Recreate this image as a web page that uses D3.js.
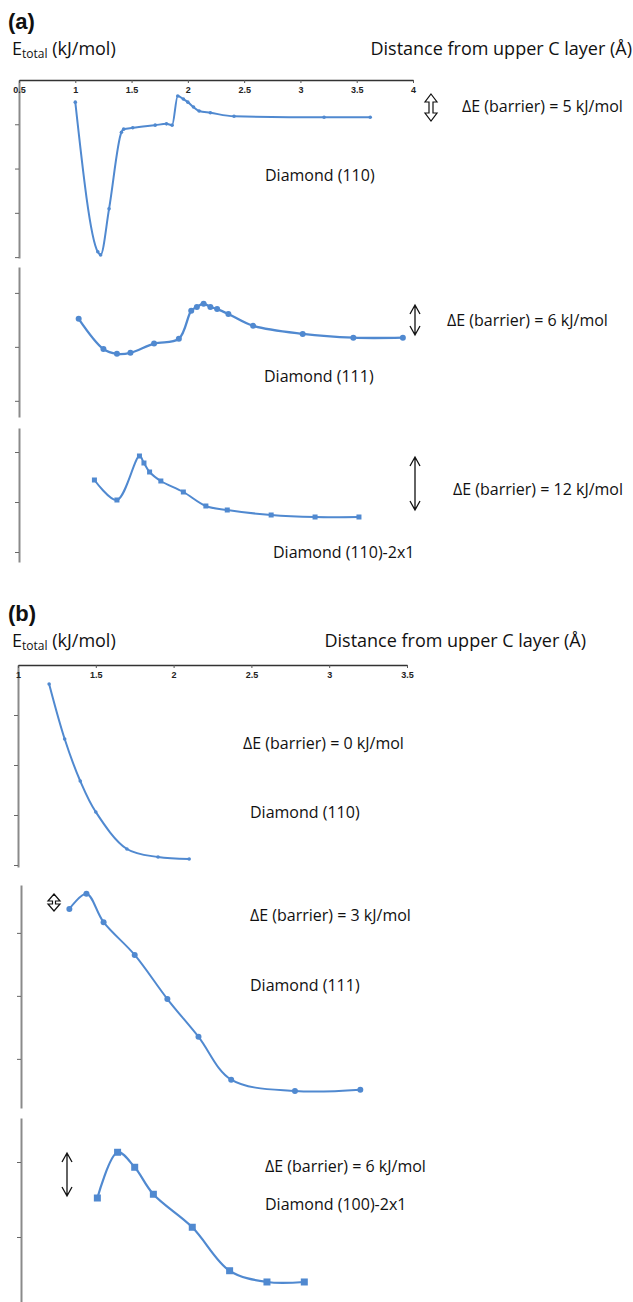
<!DOCTYPE html>
<html>
<head>
<meta charset="utf-8">
<script src="https://cdn.jsdelivr.net/npm/d3@7"></script>
<style>
  body { margin: 0; background: #fff; }
  svg text { font-family: "Open Sans", "Noto Sans", sans-serif; fill: #111; }
  .tick text { font-family: "Liberation Sans", Arial, sans-serif; font-weight: bold; font-size: 9px; fill: #222; }
</style>
</head>
<body>
<div id="chart"></div>
<script>
// distance from upper C layer (Å) and total energy (kJ/mol)
const xTicksA = [0.5, 1, 1.5, 2, 2.5, 3, 3.5, 4];
const xTicksB = [1, 1.5, 2, 2.5, 3, 3.5];

const a110_x = [1.0, 1.2, 1.225, 1.3, 1.41, 1.43, 1.51, 1.71, 1.81, 1.86, 1.91, 1.96, 2.0, 2.05, 2.1, 2.2, 2.41, 3.21, 3.62];
const a110_e = [-5.0, -38.8, -39.5, -29.1, -11.8, -11.1, -10.8, -10.2, -9.9, -10.2, -3.6, -4.3, -5.0, -6.1, -7.0, -7.4, -8.2, -8.4, -8.4];

const a111_x = [1.03, 1.25, 1.37, 1.49, 1.70, 1.92, 2.03, 2.08, 2.14, 2.20, 2.26, 2.36, 2.58, 3.02, 3.47, 3.91];
const a111_e = [-4.8, -10.4, -11.3, -11.1, -9.4, -8.5, -3.3, -2.6, -2.0, -2.6, -3.0, -3.9, -6.1, -7.6, -8.3, -8.3];

const a2x1_x = [1.17, 1.37, 1.57, 1.61, 1.66, 1.76, 1.96, 2.16, 2.35, 2.74, 3.13, 3.52];
const a2x1_e = [-5.6, -9.6, -0.8, -2.2, -4.0, -5.8, -8.0, -10.8, -11.6, -12.6, -13.0, -13.0];

const b110_x = [1.2, 1.3, 1.4, 1.5, 1.7, 1.9, 2.1];
const b110_e = [-3.8, -14.8, -23.2, -29.4, -36.8, -38.4, -38.8];

const b111_x = [1.33, 1.44, 1.55, 1.75, 1.96, 2.16, 2.37, 2.78, 3.2];
const b111_e = [3.8, 6.2, 1.7, -3.5, -10.5, -16.5, -23.3, -25.1, -24.9];

const b2x1_x = [1.51, 1.64, 1.75, 1.87, 2.12, 2.36, 2.6, 2.84];
const b2x1_e = [-4.8, 1.3, -0.7, -4.3, -8.7, -14.5, -16.0, -16.0];

const barrierLabels = ["ΔE (barrier) = 5 kJ/mol", "ΔE (barrier) = 6 kJ/mol", "ΔE (barrier) = 12 kJ/mol",
                       "ΔE (barrier) = 0 kJ/mol", "ΔE (barrier) = 3 kJ/mol", "ΔE (barrier) = 6 kJ/mol"];
const surfaceLabels = ["Diamond (110)", "Diamond (111)", "Diamond (110)-2x1",
                       "Diamond (110)", "Diamond (111)", "Diamond (100)-2x1"];

const W = 633, H = 1302;
const blue = "#5089d0";

const svg = d3.select("#chart").append("svg")
  .attr("width", W).attr("height", H)
  .attr("viewBox", [0, 0, W, H].join(" "));

// x scales for the two figure halves
const xA = d3.scaleLinear().domain([0.5, 4]).range([19, 413]);
const xB = d3.scaleLinear().domain([1, 3.5]).range([18, 407]);

function header(label, yTop, distEnd) {
  svg.append("text").attr("x", 8).attr("y", yTop)
    .style("font-family", "Liberation Sans, Arial, sans-serif")
    .style("font-weight", "bold").style("font-size", "22px")
    .text(label);
  let t = svg.append("text").attr("x", 12).attr("y", yTop + 26).style("font-size", "18px");
  t.append("tspan").text("E");
  t.append("tspan").attr("dy", 3).style("font-size", "12px").text("total");
  t.append("tspan").attr("dy", -3).text(" (kJ/mol)");
  svg.append("text").attr("x", distEnd).attr("y", yTop + 26)
    .attr("text-anchor", "end").style("font-size", "18px")
    .text("Distance from upper C layer (Å)");
}

function xAxis(x, ticks, y) {
  let g = svg.append("g")
    .attr("transform", `translate(0,${y})`)
    .call(d3.axisBottom(x).tickValues(ticks).tickSize(3).tickSizeOuter(0).tickPadding(4).tickFormat(d3.format("")));
  g.select(".domain").attr("stroke", "#333").attr("stroke-width", 1.5);
  g.selectAll(".tick line").attr("stroke", "#555");
}

// panels: layout only, values come from the arrays above
const panels = [
  {xs: a110_x, es: a110_e, x: xA, ax: 19, dom: [0, -40.2], rng: [80, 258], ticks: [-10, -20, -30, -40],
   curve: d3.curveMonotoneX, mark: "dot", lw: 2, bl: [462, 112], sl: [265, 181]},
  {xs: a111_x, es: a111_e, x: xA, ax: 19, dom: [4.8, -23], rng: [267, 417], ticks: [0, -10, -20],
   curve: d3.curveCatmullRom.alpha(0.5), mark: "circle", lw: 2.3, bl: [447, 326], sl: [264, 382]},
  {xs: a2x1_x, es: a2x1_e, x: xA, ax: 19, dom: [4.8, -22], rng: [428, 562], ticks: [0, -10, -20],
   curve: d3.curveCatmullRom.alpha(0.5), mark: "square", ms: 5, lw: 2, bl: [453, 495], sl: [273, 558]},
  {xs: b110_x, es: b110_e, x: xB, ax: 18, dom: [0, -40.4], rng: [665, 867], ticks: [-10, -20, -30, -40],
   curve: d3.curveCatmullRom.alpha(0.5), mark: "dot", lw: 2, bl: [243, 749], sl: [250, 818]},
  {xs: b111_x, es: b111_e, x: xB, ax: 21, dom: [7.6, -27.8], rng: [885, 1108], ticks: [0, -10, -20],
   curve: d3.curveCatmullRom.alpha(0.5), mark: "circle", lw: 2, bl: [250, 921], sl: [250, 991]},
  {xs: b2x1_x, es: b2x1_e, x: xB, ax: 21, dom: [5.87, -18.67], rng: [1118, 1302], ticks: [0, -10],
   curve: d3.curveCatmullRom.alpha(0.5), mark: "square", ms: 7, lw: 2.2, bl: [265, 1172], sl: [265, 1210]}
];

header("(a)", 29, 632);
header("(b)", 621, 586);

panels.forEach((p, i) => {
  const y = d3.scaleLinear().domain(p.dom).range(p.rng);
  const g = svg.append("g").attr("transform", `translate(${p.ax},0)`)
    .call(d3.axisLeft(y).tickValues(p.ticks).tickSize(4).tickSizeOuter(0).tickFormat(""));
  g.select(".domain").attr("stroke", "#8a8a8a").attr("stroke-width", 2);
  g.selectAll(".tick line").attr("stroke", "#666");

  const pts = p.xs.map((d, k) => [d, p.es[k]]);
  const line = d3.line().x(d => p.x(d[0])).y(d => y(d[1])).curve(p.curve);
  svg.append("path").datum(pts)
    .attr("d", line).attr("fill", "none")
    .attr("stroke", blue).attr("stroke-width", p.lw);

  if (p.mark == "square") {
    svg.append("g").selectAll("rect").data(pts).join("rect")
      .attr("x", d => p.x(d[0]) - p.ms / 2).attr("y", d => y(d[1]) - p.ms / 2)
      .attr("width", p.ms).attr("height", p.ms).attr("fill", blue);
  } else {
    svg.append("g").selectAll("circle").data(pts).join("circle")
      .attr("cx", d => p.x(d[0])).attr("cy", d => y(d[1]))
      .attr("r", p.mark == "dot" ? 1.8 : 3).attr("fill", blue);
  }

  svg.append("text").attr("x", p.bl[0]).attr("y", p.bl[1]).style("font-size", "16px").text(barrierLabels[i]);
  svg.append("text").attr("x", p.sl[0]).attr("y", p.sl[1]).style("font-size", "16px").text(surfaceLabels[i]);
});

xAxis(xA, xTicksA, 80);
xAxis(xB, xTicksB, 665);

// barrier arrows
function lineArrow(x, y1, y2) {
  svg.append("path")
    .attr("d", `M${x},${y1}V${y2}M${x - 5},${y1 + 9}L${x},${y1}L${x + 5},${y1 + 9}M${x - 5},${y2 - 9}L${x},${y2}L${x + 5},${y2 - 9}`)
    .attr("fill", "none").attr("stroke", "#111").attr("stroke-width", 1.3);
}
function hollowArrow(x, y1, y2, hw, hl, sw) {
  const pts = [[x, y1], [x + hw, y1 + hl], [x + sw, y1 + hl], [x + sw, y2 - hl], [x + hw, y2 - hl], [x, y2],
               [x - hw, y2 - hl], [x - sw, y2 - hl], [x - sw, y1 + hl], [x - hw, y1 + hl]];
  svg.append("path").attr("d", d3.line()(pts) + "Z")
    .attr("fill", "none").attr("stroke", "#111").attr("stroke-width", 1.2);
}
hollowArrow(431, 94, 121, 6, 8, 2);
lineArrow(415, 305, 335);
lineArrow(415, 457, 510);
hollowArrow(54, 894, 911, 6, 7, 1.5);
lineArrow(67, 1153, 1196);
</script>
</body>
</html>
